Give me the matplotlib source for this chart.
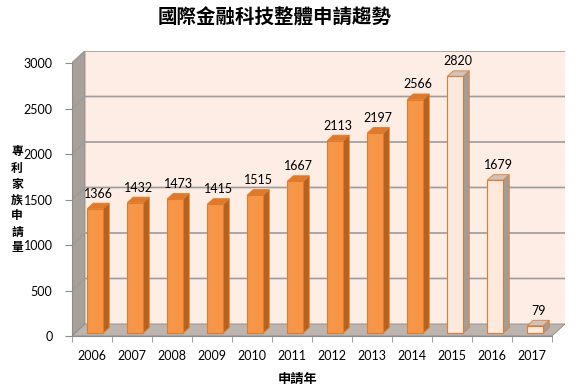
import matplotlib
matplotlib.use('Agg')
import matplotlib.pyplot as plt
from matplotlib.patches import Polygon

# data
years = ['2006', '2007', '2008', '2009', '2010', '2011',
         '2012', '2013', '2014', '2015', '2016', '2017']
counts = [1366, 1432, 1473, 1415, 1515, 1667, 2113, 2197, 2566, 2820, 1679, 79]
partial_from = '2015'   # years from here on are drawn pale (incomplete data)
yticks = [0, 500, 1000, 1500, 2000, 2500, 3000]

title = '國際金融科技整體申請趨勢'
xlabel = '申請年'
ylabel = '專利家族申請量'

plt.rcParams['font.family'] = ['Lato', 'Noto Sans CJK TC', 'DejaVu Sans']
cjk = ['Noto Sans CJK TC', 'DejaVu Sans']

fig = plt.figure(figsize=(5.79, 3.91), dpi=100)
ax = fig.add_axes([72 / 579, 55 / 391, 493 / 579, 285 / 391])

n = len(years)
ymax = yticks[-1]
dx, dy = 0.325, 132          # depth of the fake 3d box, in data units
ax.set_xlim(0, n + dx)
ax.set_ylim(0, ymax + dy)

# walls and floor
ax.add_patch(Polygon([(dx, dy), (n + dx, dy), (n + dx, ymax + dy), (dx, ymax + dy)],
                     closed=True, fc='#fdede5', ec='none', zorder=0))
ax.add_patch(Polygon([(0, 0), (dx, dy), (dx, ymax + dy), (0, ymax)],
                     closed=True, fc='#a7a09b', ec='#8f8a86', lw=0.6, zorder=0.5))
ax.add_patch(Polygon([(0, 0), (n, 0), (n + dx, dy), (dx, dy)],
                     closed=True, fc='#bcb4ae', ec='#8f8a86', lw=0.6, zorder=0.5))

# grid lines, bent over the side wall
for v in yticks[1:]:
    ax.plot([0, dx, n + dx], [v, v + dy, v + dy], color='#9c9c9c', lw=1.2, zorder=1)

# bars
w = 0.4
bx, by = 0.25 * dx, 0.25 * dy
sx, sy = 0.46 * dx, 0.46 * dy
for i, (yr, v) in enumerate(zip(years, counts)):
    pale = yr >= partial_from
    face = '#fde9db' if pale else '#f79646'
    side = '#a39d98' if pale else '#b5621f'
    top = '#cfc3ba' if pale else '#dd7a2d'
    edge = '#e07b35' if pale else '#e07b2c'
    x0 = i + 0.5 - w / 2 + bx
    ax.bar(x0, v, width=w, bottom=by, align='edge', color=face,
           edgecolor=edge, lw=0.8, zorder=3)
    ax.add_patch(Polygon([(x0 + w, by), (x0 + w + sx, by + sy),
                          (x0 + w + sx, by + v + sy), (x0 + w, by + v)],
                         closed=True, fc=side, ec=edge, lw=0.6, zorder=2.9))
    ax.add_patch(Polygon([(x0, by + v), (x0 + w, by + v),
                          (x0 + w + sx, by + v + sy), (x0 + sx, by + v + sy)],
                         closed=True, fc=top, ec=edge, lw=0.6, zorder=2.9))
    ax.text(x0 + w / 2 + sx / 2, by + v + sy + 40, str(v), ha='center', va='bottom',
            fontsize=9, zorder=4)

# axes
for s in ['top', 'right']:
    ax.spines[s].set_visible(False)
ax.spines['left'].set_bounds(0, ymax)
ax.spines['bottom'].set_bounds(0, n)
ax.spines['left'].set_color('#8c8c8c')
ax.spines['bottom'].set_color('#8c8c8c')
ax.set_yticks(yticks)
ax.tick_params(axis='y', length=5, pad=9, color='#8c8c8c', labelsize=9)
ax.set_xticks([i + 0.5 for i in range(n)])
ax.set_xticklabels(years)
ax.set_xticks(range(n + 1), minor=True)
ax.tick_params(axis='x', which='major', length=0, pad=10, labelsize=9)
ax.tick_params(axis='x', which='minor', length=4, color='#8c8c8c')
ax.set_facecolor('none')

fig.text(275 / 579, 1 - 18 / 391, title, ha='center', va='center',
         fontsize=14, fontweight='bold', family=cjk)
fig.text(298 / 579, 1 - 379 / 391, xlabel, ha='center', va='center',
         fontsize=9.5, fontweight='black', family=cjk)
fig.text(17 / 579, 1 - 200 / 391, '\n'.join(ylabel), ha='center', va='center',
         fontsize=8.5, fontweight='black', family=cjk, linespacing=1.3)

fig.savefig('out.png', dpi=100)
